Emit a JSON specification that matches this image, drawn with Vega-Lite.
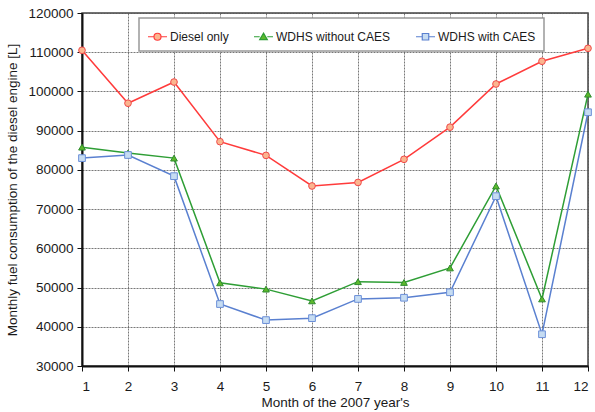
{
  "$schema": "https://vega.github.io/schema/vega-lite/v6.json",
  "width": 506,
  "height": 353,
  "autosize": {"type": "none"},
  "padding": {"left": 82, "top": 13, "right": 7, "bottom": 46},
  "background": "white",
  "config": {
    "font": "Liberation Sans",
    "view": {"stroke": "#444444", "strokeWidth": 1.5},
    "axis": {
      "labelFont": "Liberation Sans",
      "titleFont": "Liberation Sans",
      "labelFontSize": 13.5,
      "titleFontSize": 13.5,
      "titleFontWeight": "normal",
      "labelColor": "#1a1a1a",
      "titleColor": "#1a1a1a",
      "domainColor": "#111111",
      "domainWidth": 2,
      "tickColor": "#111111",
      "tickSize": 5,
      "gridColor": "#555555",
      "gridDash": [2, 1],
      "gridWidth": 0.8,
      "gridOpacity": 1
    }
  },
  "data": {
    "values": [
      {"month": 1, "series": "Diesel only", "fuel": 110500},
      {"month": 2, "series": "Diesel only", "fuel": 97000},
      {"month": 3, "series": "Diesel only", "fuel": 102400},
      {"month": 4, "series": "Diesel only", "fuel": 87200},
      {"month": 5, "series": "Diesel only", "fuel": 83700},
      {"month": 6, "series": "Diesel only", "fuel": 75900},
      {"month": 7, "series": "Diesel only", "fuel": 76800},
      {"month": 8, "series": "Diesel only", "fuel": 82700},
      {"month": 9, "series": "Diesel only", "fuel": 90900},
      {"month": 10, "series": "Diesel only", "fuel": 101900},
      {"month": 11, "series": "Diesel only", "fuel": 107700},
      {"month": 12, "series": "Diesel only", "fuel": 111000},
      {"month": 1, "series": "WDHS without CAES", "fuel": 85800},
      {"month": 2, "series": "WDHS without CAES", "fuel": 84300},
      {"month": 3, "series": "WDHS without CAES", "fuel": 83000},
      {"month": 4, "series": "WDHS without CAES", "fuel": 51200},
      {"month": 5, "series": "WDHS without CAES", "fuel": 49600},
      {"month": 6, "series": "WDHS without CAES", "fuel": 46600},
      {"month": 7, "series": "WDHS without CAES", "fuel": 51500},
      {"month": 8, "series": "WDHS without CAES", "fuel": 51300},
      {"month": 9, "series": "WDHS without CAES", "fuel": 55000},
      {"month": 10, "series": "WDHS without CAES", "fuel": 75900},
      {"month": 11, "series": "WDHS without CAES", "fuel": 47100},
      {"month": 12, "series": "WDHS without CAES", "fuel": 99300},
      {"month": 1, "series": "WDHS with CAES", "fuel": 83000},
      {"month": 2, "series": "WDHS with CAES", "fuel": 83800},
      {"month": 3, "series": "WDHS with CAES", "fuel": 78400},
      {"month": 4, "series": "WDHS with CAES", "fuel": 45800},
      {"month": 5, "series": "WDHS with CAES", "fuel": 41700},
      {"month": 6, "series": "WDHS with CAES", "fuel": 42200},
      {"month": 7, "series": "WDHS with CAES", "fuel": 47100},
      {"month": 8, "series": "WDHS with CAES", "fuel": 47400},
      {"month": 9, "series": "WDHS with CAES", "fuel": 48800},
      {"month": 10, "series": "WDHS with CAES", "fuel": 73300},
      {"month": 11, "series": "WDHS with CAES", "fuel": 38100},
      {"month": 12, "series": "WDHS with CAES", "fuel": 94700}
    ]
  },
  "encoding": {
    "x": {
      "field": "month",
      "type": "quantitative",
      "scale": {"domain": [1, 12], "nice": false, "zero": false},
      "axis": {
        "values": [1, 2, 3, 4, 5, 6, 7, 8, 9, 10, 11, 12],
        "title": "Month of the 2007 year's",
        "labelPadding": 8,
        "titlePadding": 3
      }
    },
    "y": {
      "field": "fuel",
      "type": "quantitative",
      "scale": {"domain": [30000, 120000], "nice": false, "zero": false},
      "axis": {
        "values": [30000, 40000, 50000, 60000, 70000, 80000, 90000, 100000, 110000, 120000],
        "format": "d",
        "title": "Monthly fuel consumption of the diesel engine [L]",
        "labelPadding": 4,
        "titlePadding": 8
      }
    }
  },
  "layer": [
    {
      "mark": {"type": "line", "strokeWidth": 1.5},
      "encoding": {
        "color": {
          "field": "series",
          "type": "nominal",
          "scale": {
            "domain": ["Diesel only", "WDHS without CAES", "WDHS with CAES"],
            "range": ["#ff3b3b", "#2e9e35", "#5a80d0"]
          },
          "legend": {
            "title": null,
            "orient": "none",
            "legendX": 57,
            "legendY": 5,
            "direction": "horizontal",
            "padding": 8,
            "fillColor": "white",
            "strokeColor": "#999999",
            "labelFont": "Liberation Sans",
            "labelFontSize": 12,
            "labelColor": "#1a1a1a",
            "labelOffset": 2,
            "columnPadding": 22,
            "symbolSize": 361,
            "symbolStrokeWidth": 1.2,
            "encode": {
              "legend": {"update": {"strokeWidth": {"value": 1.5}}},
              "symbols": {
                "update": {
                  "shape": {"signal": "datum.value === 'Diesel only' ? 'M-1,0H-0.37M0.37,0H1M0.37,0A0.37,0.37 0 1,1 -0.37,0A0.37,0.37 0 1,1 0.37,0Z' : datum.value === 'WDHS without CAES' ? 'M-1,0H-0.4M0.4,0H1M0,-0.38L0.4,0.3L-0.4,0.3Z' : 'M-1,0H-0.34M0.34,0H1M-0.34,-0.34H0.34V0.34H-0.34Z'"},
                  "fill": {"signal": "datum.value === 'Diesel only' ? '#fbb58f' : datum.value === 'WDHS without CAES' ? '#5cb82c' : '#c6dcf2'"},
                  "stroke": {"signal": "datum.value === 'Diesel only' ? '#f04a4a' : datum.value === 'WDHS without CAES' ? '#2e9e35' : '#5a80d0'"},
                  "opacity": {"value": 1}
                }
              }
            }
          }
        }
      }
    },
    {
      "mark": {"type": "point", "filled": true, "size": 45, "strokeWidth": 1, "opacity": 1},
      "encoding": {
        "shape": {
          "field": "series",
          "type": "nominal",
          "scale": {
            "domain": ["Diesel only", "WDHS without CAES", "WDHS with CAES"],
            "range": ["circle", "triangle-up", "square"]
          },
          "legend": null
        },
        "fill": {
          "field": "series",
          "type": "nominal",
          "scale": {
            "domain": ["Diesel only", "WDHS without CAES", "WDHS with CAES"],
            "range": ["#fbb58f", "#5cb82c", "#c6dcf2"]
          },
          "legend": null
        },
        "stroke": {
          "field": "series",
          "type": "nominal",
          "scale": {
            "domain": ["Diesel only", "WDHS without CAES", "WDHS with CAES"],
            "range": ["#f04a4a", "#2e8b2e", "#6b8fd8"]
          },
          "legend": null
        }
      }
    }
  ],
  "resolve": {"legend": {"shape": "independent", "fill": "independent", "stroke": "independent"}}
}
